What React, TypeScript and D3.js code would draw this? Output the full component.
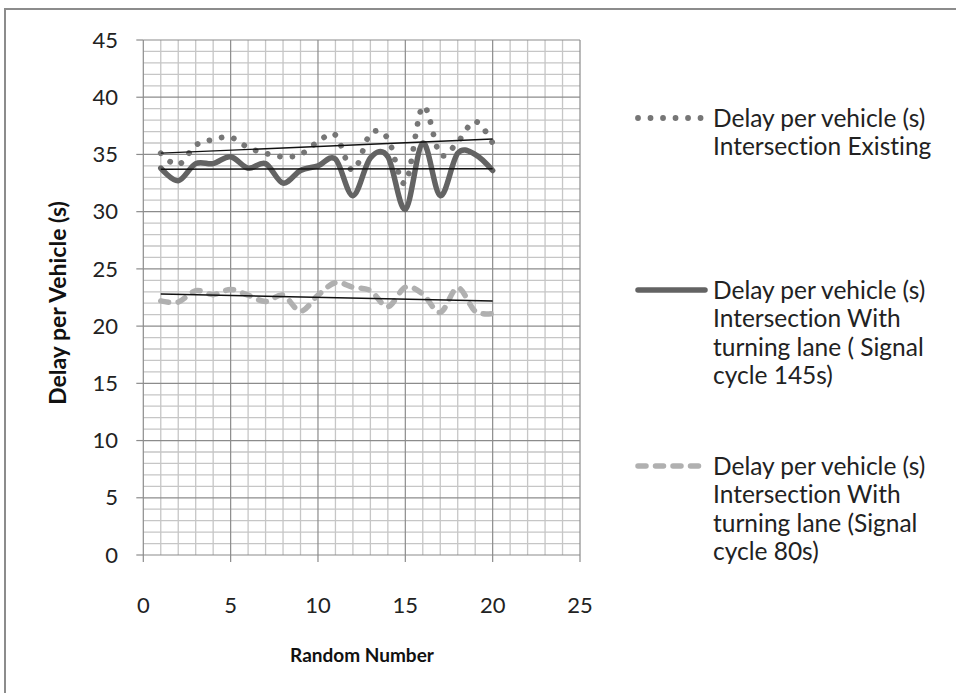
import React from "react";
import * as d3 from "d3";

const xValues = [1, 2, 3, 4, 5, 6, 7, 8, 9, 10, 11, 12, 13, 14, 15, 16, 17, 18, 19, 20];
const existing = [35.1, 34.1, 35.8, 36.3, 36.5, 35.6, 35.1, 34.8, 35.0, 36.1, 36.7, 33.6, 36.8, 36.4, 32.5, 39.2, 35.0, 36.1, 37.9, 36.0];
const cycle145 = [33.8, 32.7, 34.2, 34.2, 34.8, 33.8, 34.2, 32.5, 33.6, 34.0, 34.6, 31.4, 34.7, 34.8, 30.2, 36.0, 31.4, 35.1, 35.0, 33.6];
const cycle80 = [22.2, 22.1, 23.1, 22.75, 23.2, 22.7, 22.15, 22.7, 21.3, 22.7, 23.8, 23.4, 23.1, 21.7, 23.4, 22.8, 21.2, 23.35, 21.3, 21.1];

const xTicks = [0, 5, 10, 15, 20, 25];
const yTicks = [0, 5, 10, 15, 20, 25, 30, 35, 40, 45];

const legendLabels = [
  ["Delay per vehicle (s)", "Intersection Existing"],
  ["Delay per vehicle (s)", "Intersection With", "turning lane ( Signal", "cycle 145s)"],
  ["Delay per vehicle (s)", "Intersection With", "turning lane (Signal", "cycle 80s)"],
];

const FONT = "Lato, 'Open Sans', sans-serif";
const noLig = { fontVariantLigatures: "none" as const, fontFeatureSettings: "'liga' 0, 'clig' 0" };

function regression(xs: number[], ys: number[]) {
  const mx = d3.mean(xs)!;
  const my = d3.mean(ys)!;
  let num = 0;
  let den = 0;
  xs.forEach((x, i) => {
    num += (x - mx) * (ys[i] - my);
    den += (x - mx) * (x - mx);
  });
  const b = num / den;
  return (x: number) => my + b * (x - mx);
}

export default function App() {
  const W = 956;
  const H = 693;
  const x = d3.scaleLinear().domain([0, 25]).range([143.3, 580]);
  const y = d3.scaleLinear().domain([0, 45]).range([555, 40]);

  const series = [
    { values: existing, stroke: "#767676", width: 5.8, dash: "0.01 12.5", cap: "round" as const },
    { values: cycle145, stroke: "#636363", width: 5.5, dash: undefined, cap: "round" as const },
    { values: cycle80, stroke: "#b0b0b0", width: 5.5, dash: "8 9.5", cap: "round" as const },
  ];

  const line = d3
    .line<number>()
    .x((_, i) => x(xValues[i]))
    .y((v) => y(v))
    .curve(d3.curveCatmullRom.alpha(0));

  const minorX = d3.range(0, 26, 1);
  const minorY = d3.range(0, 46, 1);

  const legendY = [118, 290, 466];
  const lineGap = 28.5;

  return (
    <svg width={W} height={H} style={{ position: "absolute", left: 0, top: 0, background: "#fff", ...noLig }}>
      <rect x={0} y={0} width={W} height={H} fill="#fff" />
      <rect x={5} y={9} width={1100} height={1100} fill="#fff" stroke="#8c8c8c" strokeWidth={2} />

      {/* minor gridlines */}
      {minorX.filter((v) => v % 5 !== 0).map((v) => (
        <line key={"mx" + v} x1={x(v)} x2={x(v)} y1={y(0)} y2={y(45)} stroke="#c6c6c6" strokeWidth={1.3} />
      ))}
      {minorY.filter((v) => v % 5 !== 0).map((v) => (
        <line key={"my" + v} x1={x(0)} x2={x(25)} y1={y(v)} y2={y(v)} stroke="#c6c6c6" strokeWidth={1.3} />
      ))}
      {/* major gridlines */}
      {xTicks.map((v) => (
        <line key={"Mx" + v} x1={x(v)} x2={x(v)} y1={y(0)} y2={y(45)} stroke="#8c8c8c" strokeWidth={1.2} />
      ))}
      {yTicks.map((v) => (
        <line key={"My" + v} x1={x(0)} x2={x(25)} y1={y(v)} y2={y(v)} stroke="#8c8c8c" strokeWidth={1.2} />
      ))}

      {/* ticks */}
      {yTicks.map((v) => (
        <line key={"ty" + v} x1={x(0) - 7} x2={x(0)} y1={y(v)} y2={y(v)} stroke="#8c8c8c" strokeWidth={1.2} />
      ))}
      {xTicks.map((v) => (
        <line key={"tx" + v} x1={x(v)} x2={x(v)} y1={y(0)} y2={y(0) + 7} stroke="#8c8c8c" strokeWidth={1.2} />
      ))}

      {/* tick labels */}
      {yTicks.map((v) => (
        <text key={"ly" + v} x={118} y={y(v)} dy="0.35em" textAnchor="end" fontFamily={FONT} fontSize={22} fill="#222">
          {v}
        </text>
      ))}
      {xTicks.map((v) => (
        <text key={"lx" + v} x={x(v)} y={605} dy="0.35em" textAnchor="middle" fontFamily={FONT} fontSize={22} fill="#222">
          {v}
        </text>
      ))}

      {/* axis titles */}
      <text
        transform={`translate(66,303) rotate(-90)`}
        textAnchor="middle"
        fontFamily={FONT}
        fontWeight="bold"
        fontSize={23}
        fill="#111"
      >
        Delay per Vehicle (s)
      </text>
      <text x={362} y={655} dy="0.35em" textAnchor="middle" fontFamily={FONT} fontWeight="bold" fontSize={19} fill="#111">
        Random Number
      </text>

      {/* series */}
      {series.map((s, i) => (
        <path
          key={"s" + i}
          d={line(s.values)!}
          fill="none"
          stroke={s.stroke}
          strokeWidth={s.width}
          strokeDasharray={s.dash}
          strokeLinecap={s.cap}
          strokeLinejoin="round"
        />
      ))}

      {/* trendlines */}
      {series.map((s, i) => {
        const f = regression(xValues, s.values);
        return (
          <line
            key={"t" + i}
            x1={x(xValues[0])}
            x2={x(xValues[xValues.length - 1])}
            y1={y(f(xValues[0]))}
            y2={y(f(xValues[xValues.length - 1]))}
            stroke="#111"
            strokeWidth={1.4}
          />
        );
      })}

      {/* legend */}
      {series.map((s, i) => (
        <g key={"lg" + i}>
          <line
            x1={638}
            x2={705}
            y1={legendY[i]}
            y2={legendY[i]}
            stroke={s.stroke}
            strokeWidth={s.width}
            strokeDasharray={s.dash}
            strokeLinecap={s.cap}
          />
          {legendLabels[i].map((t, j) => (
            <text
              key={j}
              x={713}
              y={legendY[i] + j * lineGap}
              dy="0.35em"
              fontFamily={FONT}
              fontSize={24.5}
              fill="#222"
            >
              {t}
            </text>
          ))}
        </g>
      ))}
    </svg>
  );
}
